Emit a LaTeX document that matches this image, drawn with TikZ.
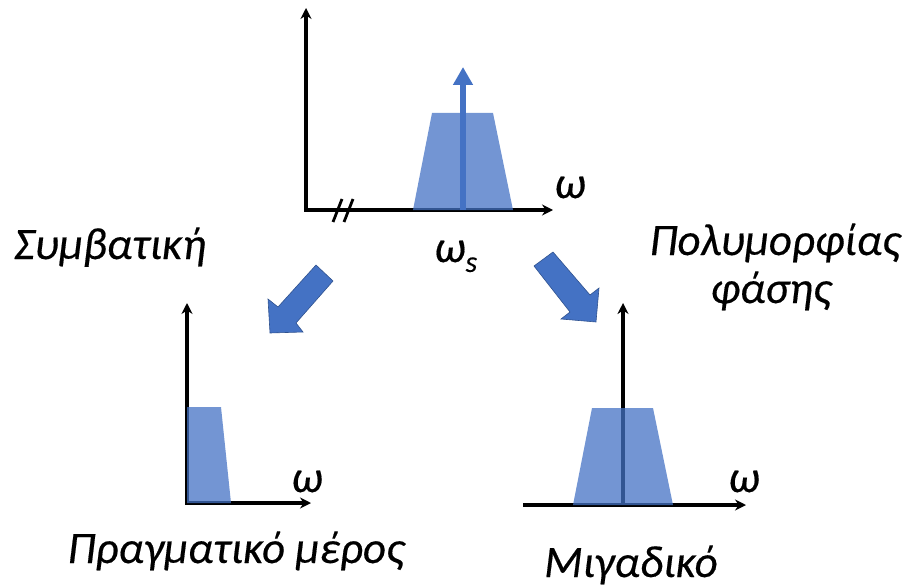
\documentclass[tikz,border=0pt]{standalone}
\usepackage{fontspec}
\setmainfont{Carlito}[ItalicFeatures={FakeBold=0.35}]
\usetikzlibrary{arrows.meta}
\definecolor{bblue}{HTML}{4472C4}
\definecolor{bedge}{HTML}{2F528F}
\begin{document}
\begin{tikzpicture}[x=1pt,y=-1pt,
  axis/.style={line width=3.3pt,-{Stealth[length=11pt,width=11pt]}},
  brk/.style={line width=2.8pt},
  spec/.style={fill=bblue,fill opacity=0.75,draw=none},
  lbl/.style={font=\fontsize{45}{54}\selectfont\itshape,inner sep=0pt},
  blockarrow/.style={fill=bblue,draw=bedge,line width=0.6pt,line join=miter},
  carrier/.style={line width=6pt,draw=bblue,-{Triangle[length=18pt,width=19pt]}}]
\useasboundingbox (0,0) rectangle (909,588);

% ---------- top spectrum ----------
\coordinate (o1) at (306,210);
\coordinate (o1y) at (306,211.6);
\coordinate (y1) at (306,8);
\coordinate (x1) at (553,210);
\draw[axis] (o1y) -- (y1);
\draw[axis] (o1) -- (x1);
\coordinate (b1a) at (333,222); \coordinate (b1b) at (342,199);
\coordinate (b2a) at (344,222); \coordinate (b2b) at (353,199);
\draw[brk] (b1a) -- (b1b);
\draw[brk] (b2a) -- (b2b);
\fill[spec] (413,210) -- (432,113) -- (493,113) -- (513,210) -- cycle;
\coordinate (c0) at (463,210);
\coordinate (c1) at (463,67);
\draw[carrier] (c0) -- (c1);
\node[lbl,anchor=base] (w1) at (570,198) {ω};
\node[lbl,anchor=base west] (ws) at (434,262) {ω\raisebox{-0.22em}{\fontsize{30}{34}\selectfont s}};

% ---------- labels ----------
\node[lbl,anchor=base] (conv) at (110,259) {Συμβατική};
\node[lbl,anchor=base] (poly1) at (775,255) {Πολυμορφίας};
\node[lbl,anchor=base] (poly2) at (771,303) {φάσης};
\node[lbl,anchor=base] (real) at (236,563) {Πραγματικό μέρος};
\node[lbl,anchor=base] (cplx) at (631,577) {Μιγαδικό};

% ---------- block arrows ----------
\draw[blockarrow] (316,265) -- (278,307) -- (268,299) -- (270,333) -- (303,332) -- (296,323) -- (333,281) -- cycle;
\draw[blockarrow] (534,266) -- (570,312) -- (561,319) -- (596,322) -- (599,288) -- (590,295) -- (553,252) -- cycle;

% ---------- bottom-left spectrum ----------
\coordinate (o2) at (187,503);
\coordinate (o2y) at (187,504.6);
\coordinate (y2) at (187,303);
\coordinate (x2) at (311,503);
\draw[axis] (o2y) -- (y2);
\draw[axis] (o2) -- (x2);
\fill[spec] (187,503) -- (187,407) -- (221,407) -- (231,503) -- cycle;
\node[lbl,anchor=base] (w2) at (307,492) {ω};

% ---------- bottom-right spectrum ----------
\coordinate (x3a) at (523,505);
\coordinate (x3b) at (746,505);
\coordinate (y3a) at (623,507);
\coordinate (y3b) at (623,303);
\draw[axis] (x3a) -- (x3b);
\draw[axis] (y3a) -- (y3b);
\fill[spec] (573,505) -- (592,408) -- (653,408) -- (673,505) -- cycle;
\node[lbl,anchor=base] (w3) at (744,492) {ω};
\end{tikzpicture}
\end{document}
